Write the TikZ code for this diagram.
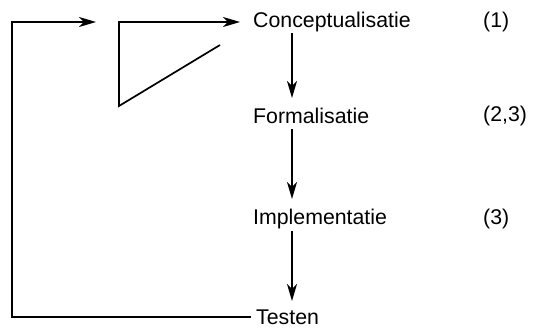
\documentclass[tikz,border=0pt]{standalone}
\usepackage{fontspec}
\setmainfont{Liberation Sans}
\usetikzlibrary{arrows.meta}
\begin{document}
\begin{tikzpicture}[x=1pt,y=-1pt,
  lbl/.style={anchor=west,inner sep=0pt,font=\fontsize{21.3}{25}\selectfont},
  ln/.style={line width=1.7pt},
  arr/.style={ln,-{Stealth[length=17pt,width=10pt,inset=5pt]}}]
\useasboundingbox (0,0) rectangle (535,332);
\node[lbl] (c) at (253,22) {Conceptualisatie};
\node[lbl] (f) at (253,116) {Formalisatie};
\node[lbl] (i) at (253,219) {Implementatie};
\node[lbl] (t) at (256,317) {Testen};
\node[lbl] (n1) at (483,22) {(1)};
\node[lbl] (n2) at (483,116) {(2,3)};
\node[lbl] (n3) at (483,219) {(3)};
\coordinate (a1) at (292,33);
\coordinate (b1) at (292,98);
\coordinate (a2) at (292,129);
\coordinate (b2) at (292,199);
\coordinate (a3) at (292,231);
\coordinate (b3) at (292,301);
\coordinate (L0) at (12,317);
\coordinate (L1) at (12,22);
\coordinate (L2) at (96,22);
\coordinate (M0) at (220,45);
\coordinate (M1) at (119,106);
\coordinate (M2) at (119,22);
\coordinate (M3) at (240,22);
\draw[arr] (a1) -- (b1);
\draw[arr] (a2) -- (b2);
\draw[arr] (a3) -- (b3);
\draw[arr] ([xshift=-5pt]t.west) -- (L0) -- (L1) -- (L2);
\draw[arr] (M0) -- (M1) -- (M2) -- (M3);
\end{tikzpicture}
\end{document}
